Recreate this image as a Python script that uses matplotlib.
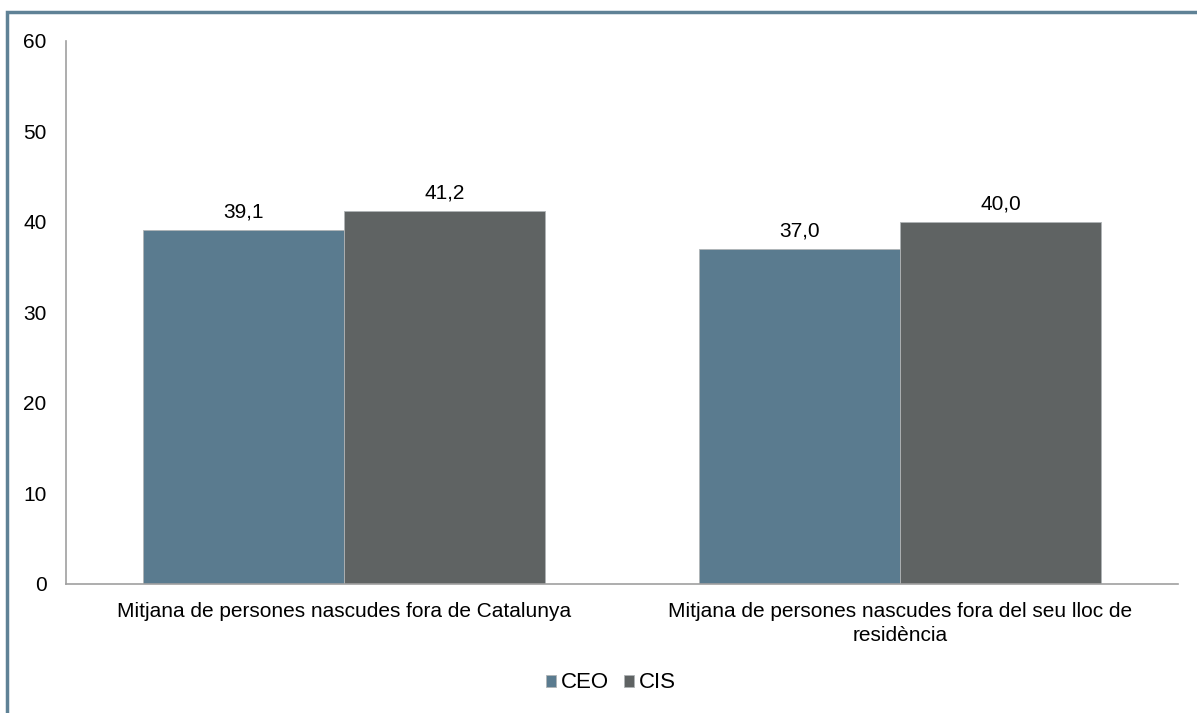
import numpy as np
import matplotlib.pyplot as plt
from matplotlib.patches import Rectangle

categories = ['Mitjana de persones nascudes fora de Catalunya',
              'Mitjana de persones nascudes fora del seu lloc de\nresidència']
series = ['CEO', 'CIS']
ceo = [39.1, 37.0]
cis = [41.2, 40.0]
colors = ['#5a7b8f', '#5f6363']

plt.rcParams['font.family'] = ['Liberation Sans', 'DejaVu Sans']
fs = 15

fig = plt.figure(figsize=(11.97, 7.13), dpi=100)
ax = fig.add_axes([0.0551, 0.181, 0.9289, 0.7615])

# frame around the chart (only left/top visible in the crop)
fig.patches.append(Rectangle((7 / 1197, -0.1), 1.2, 1.1 - 12 / 713,
                             transform=fig.transFigure, fill=False,
                             edgecolor='#5f8296', linewidth=2.5))

x = np.arange(len(categories))
w = 0.362
for i, (vals, name) in enumerate(zip([ceo, cis], series)):
    pos = x + (i - 0.5) * w
    bars = ax.bar(pos, vals, w, color=colors[i], edgecolor='#b0b4b6',
                  linewidth=0.6, label=name)
    for b, v in zip(bars, vals):
        ax.annotate(f'{v:.1f}'.replace('.', ','), (b.get_x() + w / 2, v),
                    xytext=(0, 6), textcoords='offset points',
                    ha='center', va='bottom', fontsize=fs)

ax.set_xlim(-0.5, 1.5)
ax.set_ylim(0, 60)
ax.set_yticks(range(0, 61, 10))
ax.set_xticks(x)
ax.set_xticklabels(categories, fontsize=fs, linespacing=1.3)
ax.tick_params(axis='y', labelsize=fs, length=0, pad=14)
ax.tick_params(axis='x', length=0, pad=13)
for s in ['top', 'right']:
    ax.spines[s].set_visible(False)
for s in ['left', 'bottom']:
    ax.spines[s].set_color('#a0a0a0')
    ax.spines[s].set_linewidth(1.2)

fig.legend(loc='center', bbox_to_anchor=(611 / 1197, 1 - 683 / 713), ncol=2,
           frameon=False, fontsize=16, handlelength=0.45, handleheight=0.45,
           handletextpad=0.22, columnspacing=0.68)

fig.savefig('out.png', dpi=100)
